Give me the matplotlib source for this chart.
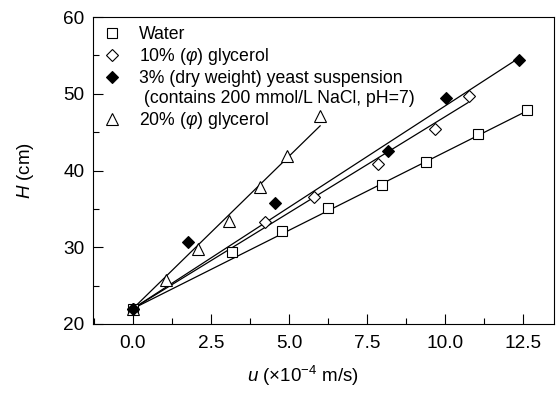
import numpy as np
import matplotlib
matplotlib.use('Agg')
import matplotlib.pyplot as plt
from matplotlib.lines import Line2D
from matplotlib.ticker import MultipleLocator, FormatStrFormatter

plt.rcParams['font.family'] = ['Liberation Sans', 'DejaVu Sans']
plt.rcParams['mathtext.fontset'] = 'custom'
plt.rcParams['mathtext.rm'] = 'Liberation Sans'
plt.rcParams['mathtext.it'] = 'Liberation Sans:italic'

# measured points: superficial velocity u (x1e-4 m/s) vs height H (cm)
u_water = [0.0, 3.17, 4.78, 6.25, 7.97, 9.38, 11.05, 12.64]
H_water = [22.0, 29.35, 32.1, 35.1, 38.05, 41.1, 44.8, 47.9]

u_gly10 = [0.0, 4.23, 5.8, 7.84, 9.68, 10.78]
H_gly10 = [22.0, 33.25, 36.5, 40.9, 45.4, 49.65]

u_yeast = [0.0, 1.75, 4.55, 8.18, 10.05, 12.38]
H_yeast = [22.0, 30.7, 35.75, 42.6, 49.5, 54.4]

u_gly20 = [0.0, 1.05, 2.07, 3.08, 4.07, 4.93, 6.01]
H_gly20 = [22.0, 25.7, 29.8, 33.4, 37.8, 41.9, 47.05]

# linear fits: intercept, slope, x-range end
fit_water = (22.0, 2.04, 12.64)
fit_gly10 = (22.0, 2.50, 10.74)
fit_yeast = (22.0, 2.64, 12.30)
fit_gly20 = (22.0, 3.97, 6.00)

fig = plt.figure(figsize=(5.58, 3.97), dpi=100)
ax = fig.add_axes([0.1667, 0.184, 0.8263, 0.773])

for b0, b1, xe in (fit_water, fit_gly10, fit_yeast, fit_gly20):
    xs = np.array([0.0, xe])
    ax.plot(xs, b0 + b1 * xs, color='black', lw=0.9, zorder=2)

mk = dict(linestyle='none', markeredgecolor='black', markeredgewidth=0.8, zorder=3)
ax.plot(u_water, H_water, marker='s', ms=6.5, markerfacecolor='white', **mk)
ax.plot(u_gly10, H_gly10, marker='D', ms=6.5, markerfacecolor='white', **mk)
ax.plot(u_gly20, H_gly20, marker='^', ms=8.5, markerfacecolor='white', **mk)
ax.plot(u_yeast, H_yeast, marker='D', ms=6.5, markerfacecolor='black', **mk)

ax.set_xlim(-1.28, 13.5)
ax.set_ylim(20, 60)
ax.xaxis.set_major_locator(MultipleLocator(2.5))
ax.xaxis.set_minor_locator(MultipleLocator(1.25))
ax.yaxis.set_major_locator(MultipleLocator(10))
ax.yaxis.set_minor_locator(MultipleLocator(5))
ax.xaxis.set_major_formatter(FormatStrFormatter('%.1f'))
ax.tick_params(which='major', direction='in', length=7, width=0.8, labelsize=13.7)
ax.tick_params(axis='x', which='major', pad=8)
ax.tick_params(axis='y', which='major', pad=6)
ax.tick_params(which='minor', direction='in', length=4, width=0.8)
for s in ax.spines.values():
    s.set_linewidth(0.8)

ax.set_xlabel(r'$u$ ($\times$10$^{-4}$ m/s)', fontsize=13.5)
ax.xaxis.set_label_coords(0.455, -0.13)
ax.set_ylabel(r'$H$ (cm)', fontsize=13.5, labelpad=20)

handles = [
    Line2D([], [], marker='s', ms=6.5, markerfacecolor='white', **mk),
    Line2D([], [], marker='D', ms=6.5, markerfacecolor='white', **mk),
    Line2D([], [], marker='D', ms=6.5, markerfacecolor='black', **mk),
    Line2D([], [], linestyle='none'),
    Line2D([], [], marker='^', ms=8.5, markerfacecolor='white', **mk),
]
labels = [
    'Water',
    r'10% ($\varphi$) glycerol',
    '3% (dry weight) yeast suspension',
    ' (contains 200 mmol/L NaCl, pH=7)',
    r'20% ($\varphi$) glycerol',
]
ax.legend(handles, labels, loc='upper left', bbox_to_anchor=(0.0, 1.0),
          frameon=False, fontsize=12.7, handlelength=1.2, handletextpad=0.9,
          labelspacing=0.17, borderaxespad=0.2, borderpad=0.3)

fig.savefig('out.png', dpi=100)
